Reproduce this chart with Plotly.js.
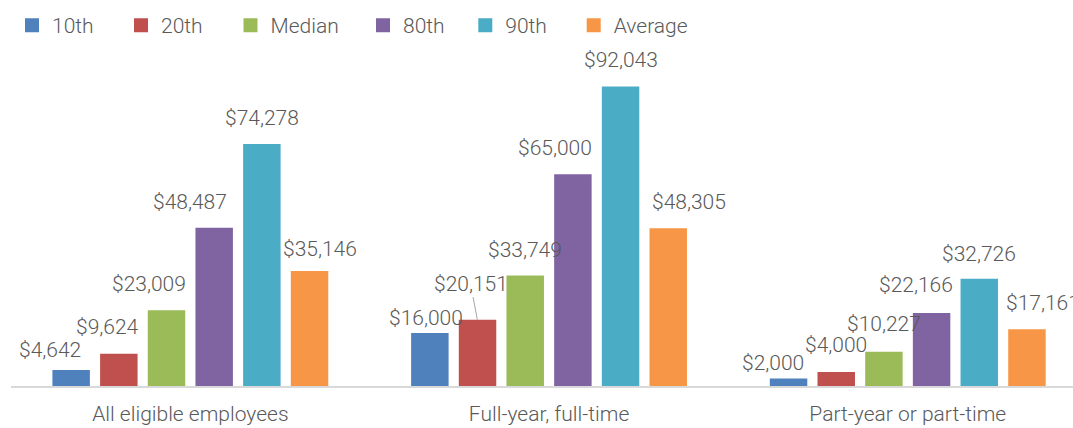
<!DOCTYPE html>
<html>
<head>
<meta charset="utf-8">
<script src="https://cdn.plot.ly/plotly-3.0.1.min.js"></script>
<style>
  html, body { margin: 0; padding: 0; background: #ffffff; }
  #chart { width: 1073px; height: 428px; }
</style>
</head>
<body>
<div id="chart"></div>
<script>
// ---- Data ----
const categories = ["All eligible employees", "Full-year, full-time", "Part-year or part-time"];
const seriesNames = ["10th", "20th", "Median", "80th", "90th", "Average"];
const p10     = [4642, 16000, 2000];
const p20     = [9624, 20151, 4000];
const median  = [23009, 33749, 10227];
const p80     = [48487, 65000, 22166];
const p90     = [74278, 92043, 32726];
const average = [35146, 48305, 17161];
const seriesValues = [p10, p20, median, p80, p90, average];

// ---- Style ----
const colors = ["#4F81BD", "#C0504D", "#9BBB59", "#8064A2", "#4BACC6", "#F79646"];
const textColor = "#595959";
const fontFamily = "Roboto, 'Open Sans', sans-serif";
// label nudges in pixels [dx, dy] (dy = distance of label centre above bar top), per series per category
const labelNudge = [
  [[-21, 21], [-4, 16], [-16, 17]],
  [[-11, 28], [-7, 37], [0, 28]],
  [[-18, 27], [0, 27], [0, 29]],
  [[-24, 27], [-18, 27], [-16, 29]],
  [[0, 27], [0, 27], [0, 26]],
  [[10, 23], [21, 27], [16, 27]]
];
// legend entry marker centres (px from left)
const legendCentres = [32, 141, 250.5, 383, 485.3, 593.7];

const bargap = 0.2025;
const nSeries = seriesNames.length;
const slot = (1 - bargap) / nSeries;

const W = 1073, H = 428;
const traces = [];
const annotations = [];
const layout = {
  width: W, height: H,
  margin: { l: 11, r: 0, t: 0, b: 42, autoexpand: false },
  paper_bgcolor: "#ffffff",
  plot_bgcolor: "#ffffff",
  barmode: "group",
  bargap: bargap,
  bargroupgap: 0.256,
  font: { family: fontFamily, color: textColor, size: 20, weight: 300 },
  xaxis: {
    type: "linear",
    range: [-0.5, -0.5 + 1062 / 358.7],
    tickmode: "array",
    tickvals: categories.map((c, i) => i),
    ticktext: categories,
    showline: true, linecolor: "#D9D9D9", linewidth: 2,
    showgrid: false, zeroline: false, ticks: "",
    ticklabelstandoff: 8,
    tickfont: { family: fontFamily, size: 21, color: textColor, weight: 300 },
    fixedrange: true
  },
  yaxis: { range: [0, 119000], visible: false, showgrid: false, zeroline: false, fixedrange: true },
  annotations: annotations,
  showlegend: true
};

seriesNames.forEach((name, s) => {
  const legendId = s === 0 ? "legend" : "legend" + (s + 1);
  traces.push({
    type: "bar",
    name: name,
    x: categories.map((c, i) => i),
    y: seriesValues[s],
    marker: { color: colors[s], line: { color: colors[s], width: 2 } },
    legend: legendId,
    hoverinfo: "skip"
  });
  layout[legendId] = {
    xref: "container", yref: "container",
    x: (legendCentres[s] - 20) / W, xanchor: "left",
    y: 1 - 25.5 / H, yanchor: "middle",
    orientation: "h",
    bgcolor: "rgba(0,0,0,0)",
    borderwidth: 0,
    font: { family: fontFamily, size: 21, color: textColor, weight: 300 }
  };
  const offset = (s - (nSeries - 1) / 2) * slot;
  seriesValues[s].forEach((v, i) => {
    const [dx, dy] = labelNudge[s][i];
    const label = "$" + v.toLocaleString("en-US");
    if (s === 1 && i === 1) {
      annotations.push({
        x: i + offset, y: v, xref: "x", yref: "y",
        text: label, showarrow: true, arrowhead: 0, arrowwidth: 1,
        arrowcolor: "#A6A6A6", ax: dx, ay: -dy, standoff: 1,
        font: { family: fontFamily, size: 21, color: textColor, weight: 300 }
      });
    } else {
      annotations.push({
        x: i + offset, y: v, xref: "x", yref: "y",
        text: label, showarrow: false,
        xanchor: "center", yanchor: "middle",
        xshift: dx, yshift: dy, cliponaxis: false,
        font: { family: fontFamily, size: 21, color: textColor, weight: 300 }
      });
    }
  });
});

Plotly.newPlot("chart", traces, layout, { displayModeBar: false, staticPlot: true });
</script>
</body>
</html>
